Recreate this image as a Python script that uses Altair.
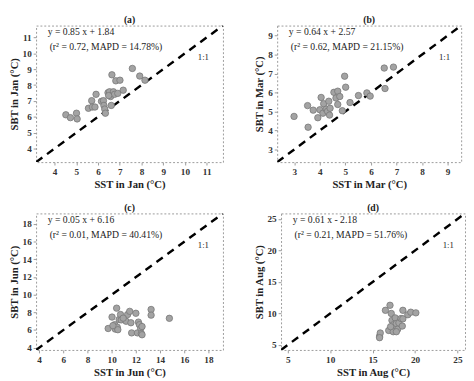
import altair as alt
import pandas as pd

# Panel (a) Jan
jan_sst = [4.52, 4.73, 5.01, 5.04, 5.56, 5.71, 5.74, 5.86, 5.91, 6.16, 6.25, 6.27, 6.31, 6.34,
           6.46, 6.53, 6.58, 6.64, 6.61, 6.71, 6.76, 6.82, 6.91, 7.01, 7.16, 7.58, 7.92, 8.16, 6.49]
jan_sbt = [6.13, 5.95, 6.23, 5.87, 6.54, 7.02, 6.62, 6.62, 7.42, 6.98, 7.02, 6.72, 6.49, 6.23,
           7.52, 7.58, 7.28, 8.65, 6.72, 7.58, 7.42, 8.27, 7.48, 8.31, 7.68, 9.05, 8.57, 8.31, 7.34]
# Panel (b) Mar
mar_sst = [2.99, 3.54, 3.52, 3.74, 3.92, 4.00, 4.05, 4.12, 4.15, 4.25, 4.30, 4.35, 4.40, 4.38,
           4.55, 4.63, 4.70, 4.70, 4.78, 4.88, 4.97, 5.01, 5.18, 5.51, 5.84, 5.97, 6.52, 6.55, 6.88]
mar_sbt = [4.74, 4.17, 5.31, 5.07, 4.67, 5.09, 5.74, 4.91, 5.41, 5.12, 5.01, 5.54, 5.17, 4.81,
           6.01, 5.71, 6.07, 5.37, 5.79, 5.04, 6.86, 6.28, 5.47, 5.84, 5.98, 5.81, 7.29, 6.21, 7.34]
# Panel (c) Jun
jun_sst = [9.71, 10.03, 10.25, 10.41, 10.30, 10.46, 10.51, 10.62, 10.73, 10.79, 11.19, 11.32,
           11.49, 11.59, 11.65, 12.00, 12.13, 12.21, 12.29, 12.40, 12.45, 12.51, 12.51, 13.26,
           13.26, 14.77, 10.95, 10.1]
jun_sbt = [6.18, 7.47, 6.61, 8.48, 6.11, 6.33, 6.04, 7.19, 7.76, 7.15, 7.00, 7.76,
           8.12, 6.83, 5.68, 7.90, 5.68, 6.90, 6.61, 6.18, 5.61, 5.47, 6.40, 8.33,
           7.69, 7.33, 7.35, 6.5]
# Panel (d) Aug
aug_sst = [15.82, 15.90, 15.82, 16.51, 16.90, 17.05, 17.20, 17.28, 17.43, 17.54, 17.66, 17.80,
           17.96, 18.10, 18.35, 18.50, 18.57, 18.57, 19.15, 19.50, 20.10, 17.43, 17.12, 17.80]
aug_sbt = [6.40, 6.90, 6.15, 10.50, 7.30, 11.30, 10.00, 8.90, 8.20, 7.65, 9.30, 8.40,
           7.50, 8.50, 9.20, 8.00, 10.50, 9.15, 9.80, 10.20, 10.10, 7.10, 7.90, 7.10]

labels = ["(a)", "(b)", "(c)", "(d)"]
months = ["Jan", "Mar", "Jun", "Aug"]
eq_lines = ["y = 0.85 x + 1.84", "y = 0.64 x + 2.57", "y = 0.05 x + 6.16", "y = 0.61 x - 2.18"]
stat_lines = ["(r² = 0.72, MAPD = 14.78%)", "(r² = 0.62, MAPD = 21.15%)",
              "(r² = 0.01, MAPD = 40.41%)", "(r² = 0.21, MAPD = 51.76%)"]
domains = [(3.15, 11.75), (2.33, 9.53), (3.75, 19.2), (4.2, 25.9)]
ticks = [list(range(4, 12)), list(range(3, 10)), list(range(4, 19, 2)), list(range(5, 26, 5))]
widths = [193, 190, 193, 190]

SERIF = "Liberation Serif"


def make_axis(vals, title):
    return alt.Axis(values=vals, title=title, grid=False, domain=False, labelOverlap=False,
                    tickSize=3, tickColor="#999", labelFont=SERIF, labelFontSize=9.5,
                    labelFontWeight="bold", labelColor="#333", labelPadding=2,
                    titleFont=SERIF, titleFontSize=11, titleFontWeight="bold",
                    titleColor="#222", titlePadding=3)


def panel(i, sst, sbt):
    lo, hi = domains[i]
    m = months[i]
    df = pd.DataFrame({"sst": sst, "sbt": sbt})
    line_df = pd.DataFrame({"sst": [lo, hi], "sbt": [lo, hi]})
    xs = alt.Scale(domain=[lo, hi], nice=False, zero=False)
    ys = alt.Scale(domain=[lo, hi], nice=False, zero=False)
    xenc = alt.X("sst:Q", scale=xs, axis=make_axis(ticks[i], f"SST in {m} (°C)"))
    yenc = alt.Y("sbt:Q", scale=ys, axis=make_axis(ticks[i], f"SBT in {m} (°C)"))
    ln = alt.Chart(line_df).mark_line(color="black", strokeWidth=2.5,
                                      strokeDash=[8, 6], clip=True).encode(x=xenc, y=yenc)
    pts = alt.Chart(df).mark_circle(size=44, color="#a3a3a3", opacity=1,
                                    stroke="#777", strokeWidth=0.8).encode(x=xenc, y=yenc)
    t1 = alt.Chart(pd.DataFrame({"t": [eq_lines[i]]})).mark_text(
        align="left", baseline="middle", font=SERIF, fontSize=10, color="#222").encode(
        x=alt.value(12), y=alt.value(7), text="t:N")
    t2 = alt.Chart(pd.DataFrame({"t": [stat_lines[i]]})).mark_text(
        align="left", baseline="middle", font=SERIF, fontSize=10, color="#222").encode(
        x=alt.value(14), y=alt.value(22), text="t:N")
    t3 = alt.Chart(pd.DataFrame({"t": ["1:1"]})).mark_text(
        align="left", baseline="middle", font=SERIF, fontSize=9, color="#222").encode(
        x=alt.value(167), y=alt.value(33), text="t:N")
    return alt.layer(ln, pts, t1, t2, t3).properties(
        width=widths[i], height=141,
        title=alt.TitleParams(labels[i], font=SERIF, fontSize=10, fontWeight="bold",
                              offset=1, color="#222"))


pa = panel(0, jan_sst, jan_sbt)
pb = panel(1, mar_sst, mar_sbt)
pc = panel(2, jun_sst, jun_sbt)
pd_ = panel(3, aug_sst, aug_sbt)

chart = alt.vconcat(
    alt.hconcat(pa, pb, spacing=30),
    alt.hconcat(pc, pd_, spacing=30),
    spacing=12,
).properties(padding=0).configure_view(
    stroke="#999", strokeDash=[2, 2], strokeWidth=1
)

chart.save("out.html", embed_options={"renderer": "svg", "actions": False})
